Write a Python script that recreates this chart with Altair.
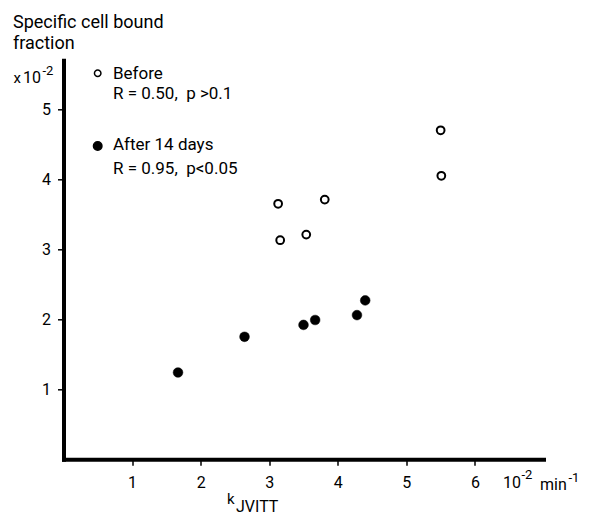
import altair as alt
import pandas as pd

# ---- data ----
before_x = [3.13, 3.16, 3.54, 3.81, 5.50, 5.51]
before_y = [3.65, 3.13, 3.21, 3.71, 4.70, 4.05]
after_x = [1.67, 2.64, 3.50, 3.67, 4.28, 4.40]
after_y = [1.24, 1.75, 1.92, 1.99, 2.06, 2.27]
x_ticks = [1, 2, 3, 4, 5, 6]
y_ticks = [1, 2, 3, 4, 5]
x_domain = [0, 7]
y_domain = [0, 5.7]

FONT = "Roboto"
OX, OY = 63.5, 60.3  # plot origin in page coordinates (used for annotations only)
SP = "\u00a0"

df_before = pd.DataFrame({"k": before_x, "f": before_y})
df_after = pd.DataFrame({"k": after_x, "f": after_y})

xenc = alt.X("k:Q", scale=alt.Scale(domain=x_domain, nice=False),
             axis=alt.Axis(values=x_ticks, title=None, labelPadding=9))
yenc = alt.Y("f:Q", scale=alt.Scale(domain=y_domain, nice=False),
             axis=alt.Axis(values=y_ticks, title=None, labelPadding=7))

pts_before = alt.Chart(df_before).mark_circle(
    size=60, fill="white", stroke="black", strokeWidth=2, opacity=1
).encode(x=xenc, y=yenc)

pts_after = alt.Chart(df_after).mark_circle(
    size=95, fill="black", stroke="black", strokeWidth=0.5, opacity=1
).encode(x=xenc, y=yenc)

one = pd.DataFrame({"a": [0]})


def txt(s, px, py, size, align="left", baseline="alphabetic"):
    return alt.Chart(one).mark_text(
        align=align, baseline=baseline, font=FONT, fontSize=size, color="black"
    ).encode(x=alt.value(px - OX), y=alt.value(py - OY), text=alt.value(s))


def sym(px, py, size, filled):
    return alt.Chart(one).mark_point(
        shape="circle", size=size, filled=filled,
        fill="black" if filled else "white", stroke="black",
        strokeWidth=1.5, opacity=1
    ).encode(x=alt.value(px - OX), y=alt.value(py - OY))


legend_labels = ["Before", "R = 0.50," + SP + SP + "p >0.1",
                 "After 14 days", "R = 0.95," + SP + SP + "p<0.05"]

annotations = [
    txt("Specific cell bound", 13, 28.3, 18),
    txt("fraction", 13, 49.3, 18),
    txt("x", 13.5, 83.3, 15),
    txt("10", 23, 83.3, 16),
    txt("-2", 42.5, 74.5, 13),
    sym(97.7, 73.3, 42, False),
    txt(legend_labels[0], 113, 78.5, 17),
    txt(legend_labels[1], 113, 99, 17),
    sym(97.7, 146, 72, True),
    txt(legend_labels[2], 113, 150, 17),
    txt(legend_labels[3], 113, 174, 17),
    txt("10", 503, 488, 16),
    txt("-2", 521.5, 479, 13),
    txt("min", 540, 490, 16),
    txt("-1", 568.5, 482, 13),
    txt("k", 227, 504, 15),
    txt("JVITT", 236, 511.5, 16),
]

chart = alt.layer(pts_before, pts_after, *annotations).properties(
    width=480, height=399,
    autosize=alt.AutoSizeParams(type="none"),
    padding={"left": 55.5, "top": 52.3, "right": 41.5, "bottom": 54.7},
).configure_view(stroke=None).configure_axis(
    grid=False, labelFont=FONT, labelFontSize=16, labelColor="black",
    domainColor="black", domainWidth=4, domainCap="square",
    tickColor="black", tickWidth=1.5, tickSize=6,
)

chart.save("out.html", embed_options={"renderer": "svg", "actions": False})
